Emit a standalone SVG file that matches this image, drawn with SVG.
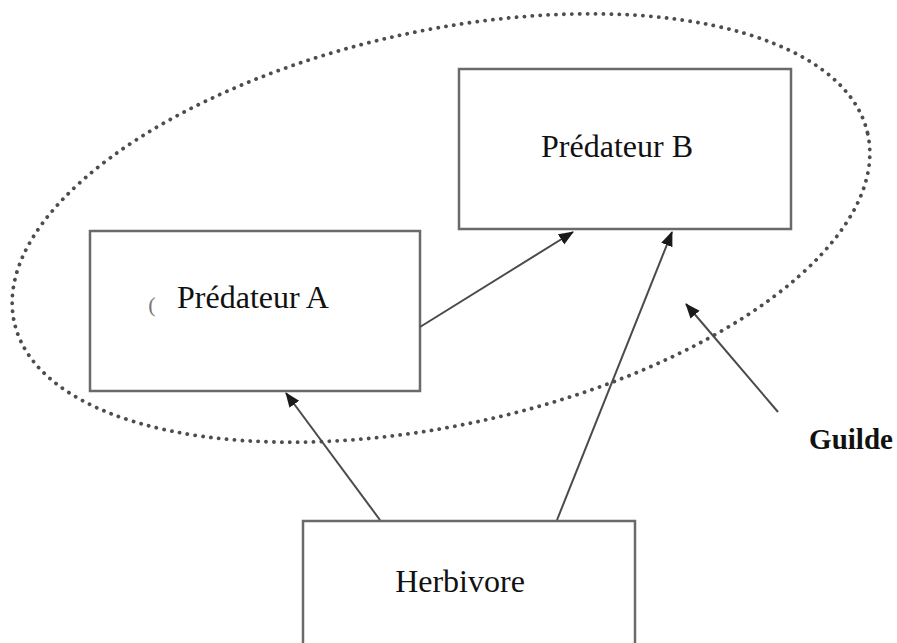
<svg xmlns="http://www.w3.org/2000/svg" width="897" height="643" viewBox="0 0 897 643">
<style>
.box{fill:#fff;stroke:#6a6a6a;stroke-width:2.5}
.lbl{font-family:"Liberation Serif","Times New Roman",serif;font-size:32px;fill:#111;text-anchor:middle}
.conn{stroke:#4a4a4a;stroke-width:2;fill:none}
</style>
<defs>
<marker id="ah" markerUnits="userSpaceOnUse" markerWidth="16" markerHeight="14" refX="14" refY="6" orient="auto">
<path d="M0,0 L15,6 L0,12 Z" fill="#1a1a1a"/>
</marker>
</defs>
<rect width="897" height="643" fill="#fff"/>
<ellipse id="guild" cx="441" cy="228" rx="437" ry="197" transform="rotate(-12.45 441 228)" fill="none" stroke="#4d4d4d" stroke-width="3.8" stroke-linecap="round" stroke-dasharray="0.1 7.8"/>
<g id="predB">
<rect class="box" x="459" y="69" width="332" height="160"/>
<text class="lbl" x="617" y="157">Prédateur B</text>
</g>
<g id="predA">
<rect class="box" x="90" y="231" width="330" height="160"/>
<text class="lbl" x="253" y="308">Prédateur A</text>
<text x="152" y="312" font-family="Liberation Serif, serif" font-size="22" fill="#777" text-anchor="middle">(</text>
</g>
<g id="herbivore">
<rect class="box" x="303" y="521" width="332" height="140"/>
<text class="lbl" x="460" y="592">Herbivore</text>
</g>
<g id="guilde-label">
<text x="851" y="449" font-family="Liberation Serif, serif" font-size="29" font-weight="bold" fill="#111" text-anchor="middle">Guilde</text>
</g>
<g id="connectors">
<line class="conn" x1="380" y1="520" x2="286" y2="393" marker-end="url(#ah)" stroke-width="2.2" stroke="#3a3a3a"/>
<line class="conn" x1="557" y1="520" x2="672" y2="232" marker-end="url(#ah)" stroke="#555" stroke-width="1.8"/>
<line class="conn" x1="420" y1="327" x2="573" y2="232" marker-end="url(#ah)" stroke="#666" stroke-width="1.6"/>
<line class="conn" x1="778" y1="412" x2="686" y2="304" marker-end="url(#ah)" stroke="#b5b5b5" stroke-width="1.5"/>
</g>
</svg>
